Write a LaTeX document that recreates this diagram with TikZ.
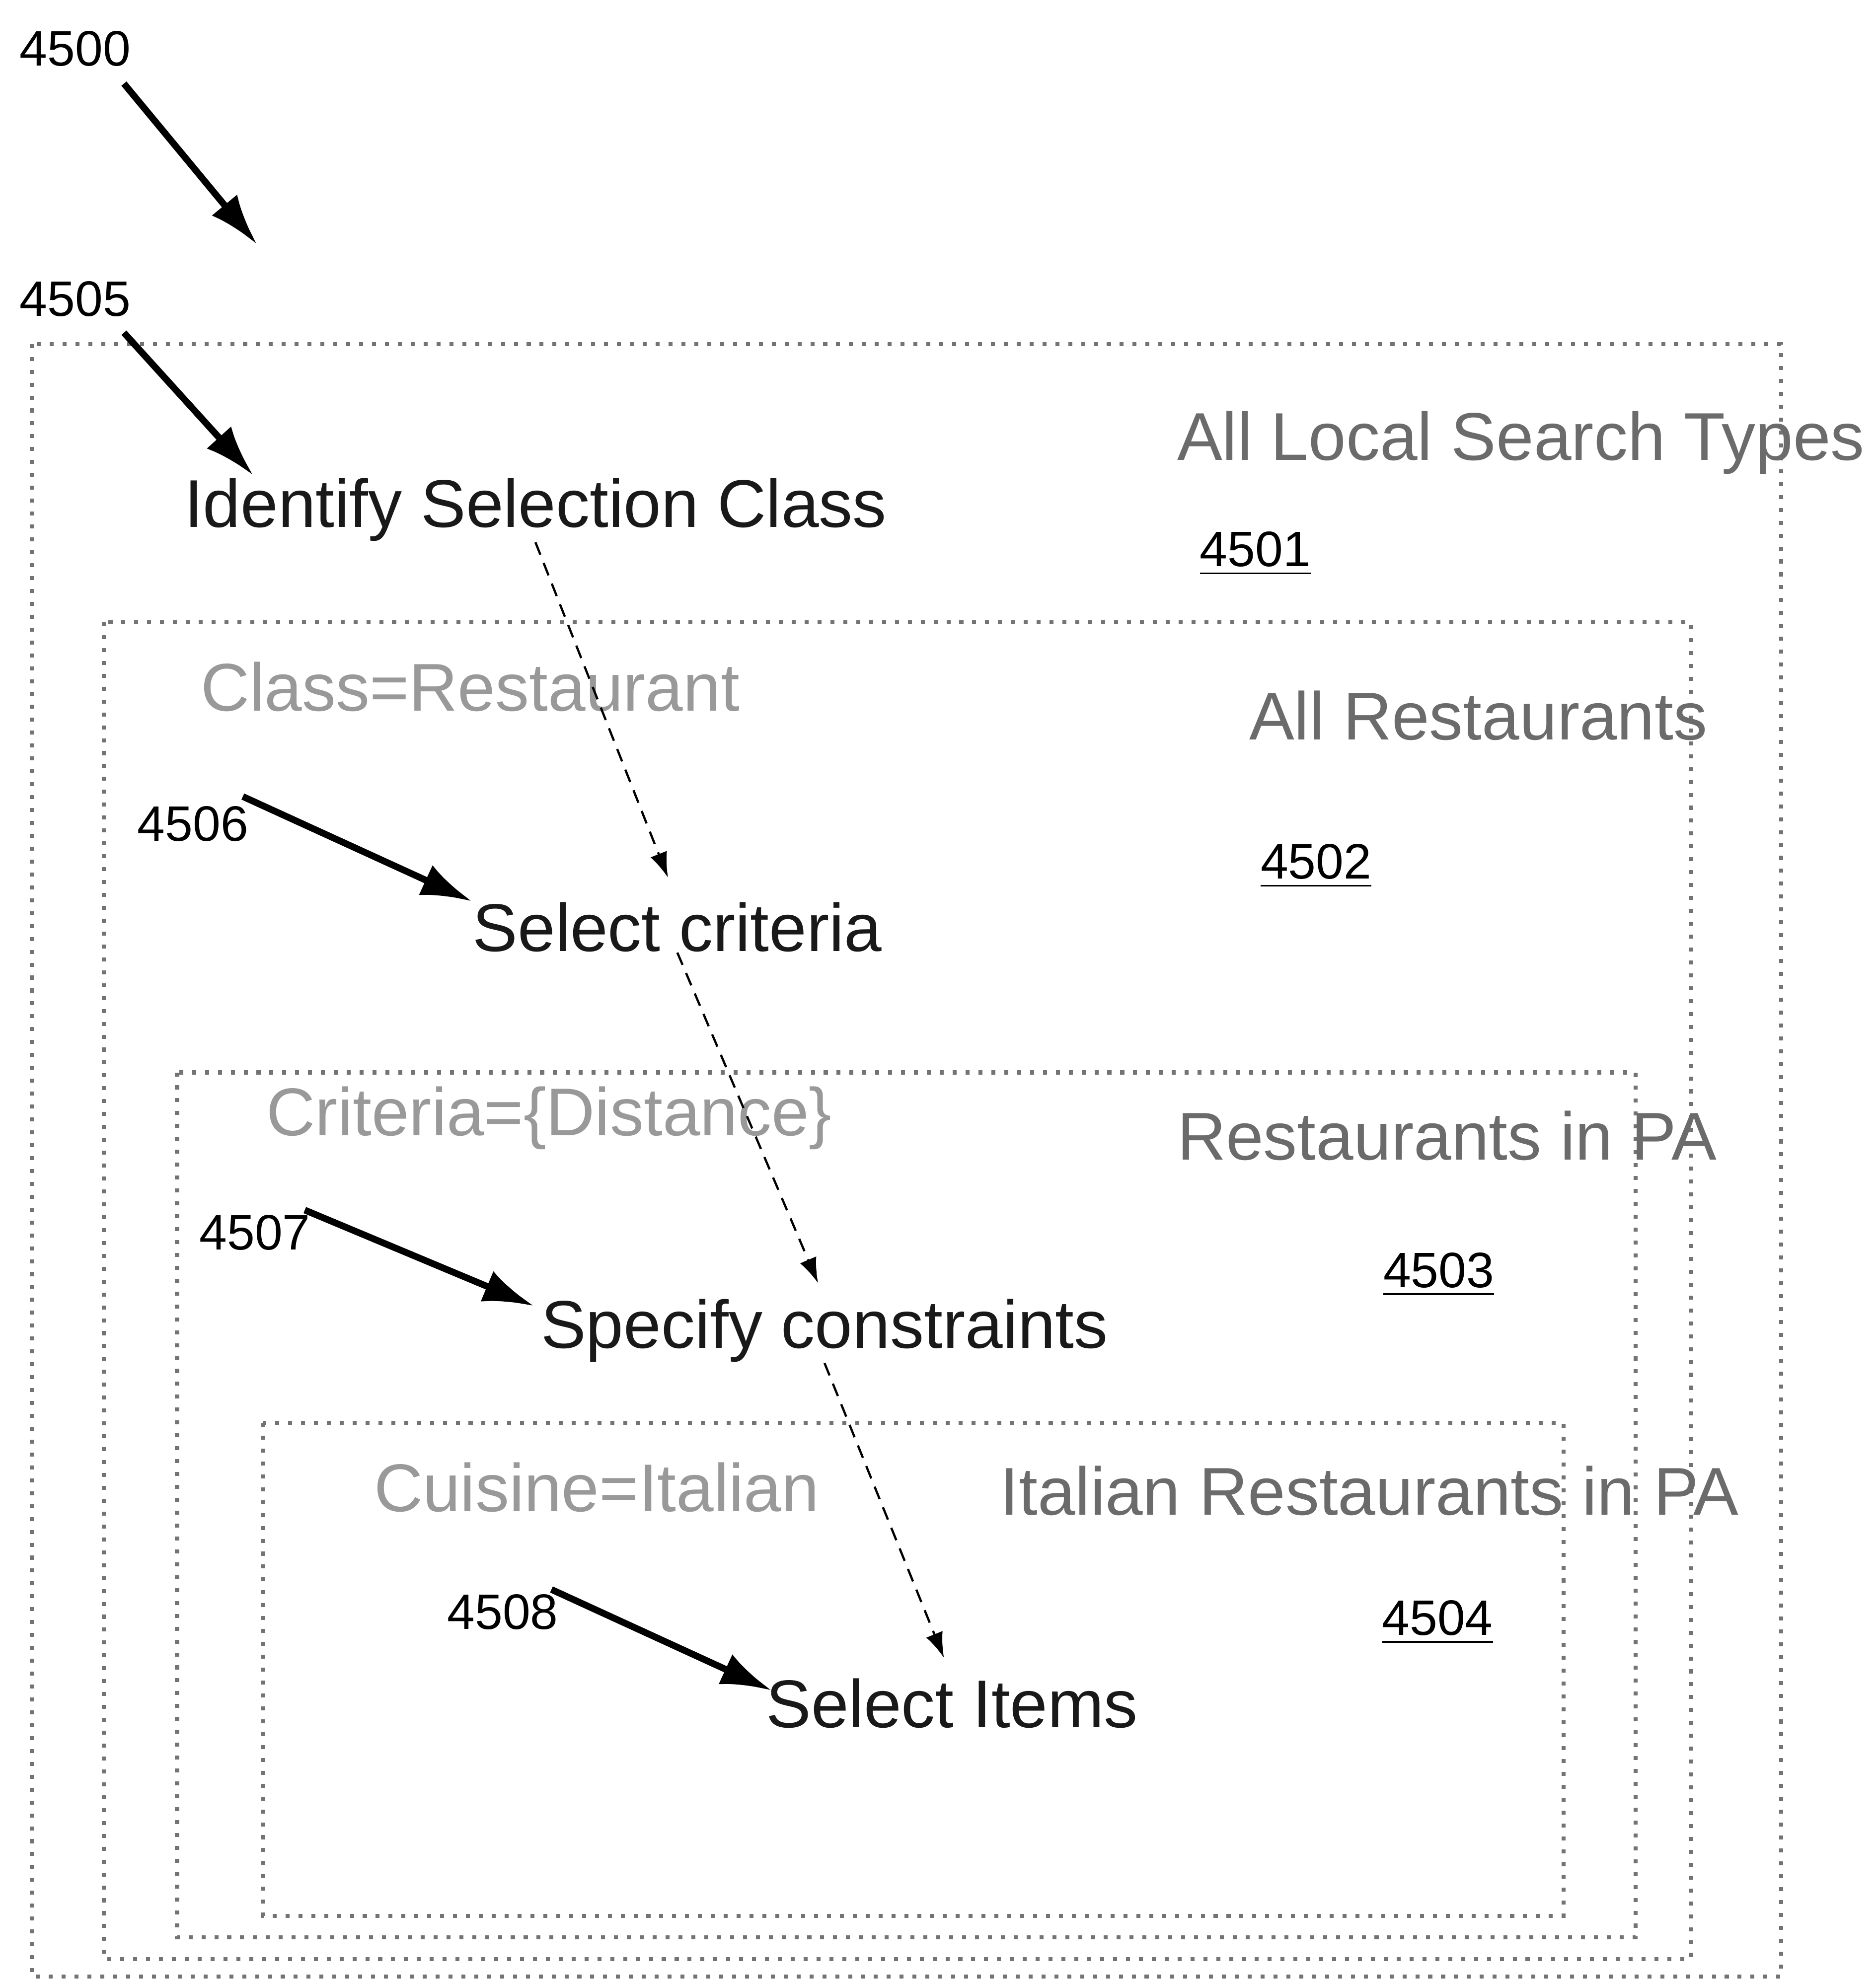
\documentclass[tikz,border=0pt]{standalone}
\usepackage{fontspec}
\setsansfont{Liberation Sans}
\usepackage{tikz}
\usetikzlibrary{arrows.meta, positioning}

\begin{document}
\begin{tikzpicture}[
    x=0.1mm, y=-0.1mm,
    font=\sffamily,
    stepbig/.style={
      anchor=base west,
      inner sep=0pt,
      text=black!90,
      font=\sffamily\fontsize{15.2}{18}\selectfont
    },
    setname/.style={
      stepbig,
      text=black!58
    },
    crit/.style={
      stepbig,
      text=black!40
    },
    ref/.style={
      anchor=base west,
      inner sep=0pt,
      font=\sffamily\fontsize{11.2}{13}\selectfont
    },
    setbox/.style={
      draw=black!55,
      dotted,
      line width=0.9pt
    },
    lead/.style={
      -{Latex[length=4mm, width=2.6mm]},
      line width=1.5pt
    },
    flow/.style={
      -{Latex[length=2mm, width=1.4mm]},
      densely dashed,
      line width=0.5pt
    }
  ]

    \useasboundingbox (0,0) rectangle (1483,1568);

    % Nested sets
    \draw[setbox] (25,272) rectangle (1408,1563);
    \draw[setbox] (82,492) rectangle (1337,1549);
    \draw[setbox] (140,848) rectangle (1293,1532);
    \draw[setbox] (208,1125) rectangle (1236,1515);

    % Set names
    \node[setname] (alltypes) at (930,364) {All Local Search Types};
    \node[ref] (r4501) at (948,448) {\underline{4501}};
    \node[setname] (allrest) at (987,585) {All Restaurants};
    \node[ref] (r4502) at (996,695) {\underline{4502}};
    \node[setname] (restpa) at (930,917) {Restaurants in PA};
    \node[ref] (r4503) at (1093,1018) {\underline{4503}};
    \node[setname] (italpa) at (790,1198) {Italian Restaurants in PA};
    \node[ref] (r4504) at (1092,1293) {\underline{4504}};

    % Chosen criteria
    \node[crit] (critclass) at (158,562) {Class=Restaurant};
    \node[crit] (critdist) at (210,898) {Criteria=\{Distance\}};
    \node[crit] (critcuis) at (295,1195) {Cuisine=Italian};

    % Steps
    \node[stepbig] (ident) at (145,417) {Identify Selection Class};
    \node[stepbig] (selcrit) at (373,752) {Select criteria};
    \node[stepbig] (spec) at (427,1066) {Specify constraints};
    \node[stepbig] (selitems) at (605,1366) {Select Items};

    \draw[flow, shorten >=2mm] (ident.south) -- (selcrit.north);
    \draw[flow, shorten >=1.3mm] (selcrit.south) -- (spec.north);
    \draw[flow, shorten >=1.7mm] (spec.south) -- (selitems.north);

    % Reference numerals
    \node[ref] (r4500) at (15,52) {4500};
    \node[ref] (r4505) at (15,250) {4505};
    \node[ref] (r4506) at (108,665) {4506};
    \node[ref] (r4507) at (157,988) {4507};
    \node[ref] (r4508) at (353,1288) {4508};

    \coordinate (figtip) at (203,193);
    \draw[lead] ([shift={(-6,13)}]r4500.south east) -- (figtip);
    \draw[lead] ([shift={(-6,12)}]r4505.south east) -- ([shift={(55,-2)}]ident.north west);
    \draw[lead] ([shift={(-5,-7)}]r4506.north east) -- (selcrit.north west);
    \draw[lead] ([shift={(-5,-3)}]r4507.north east) -- ([shift={(-5,6)}]spec.north west);
    \draw[lead] ([shift={(-6,-3)}]r4508.north east) -- ([shift={(5,10)}]selitems.north west);

  \end{tikzpicture}
\end{document}
